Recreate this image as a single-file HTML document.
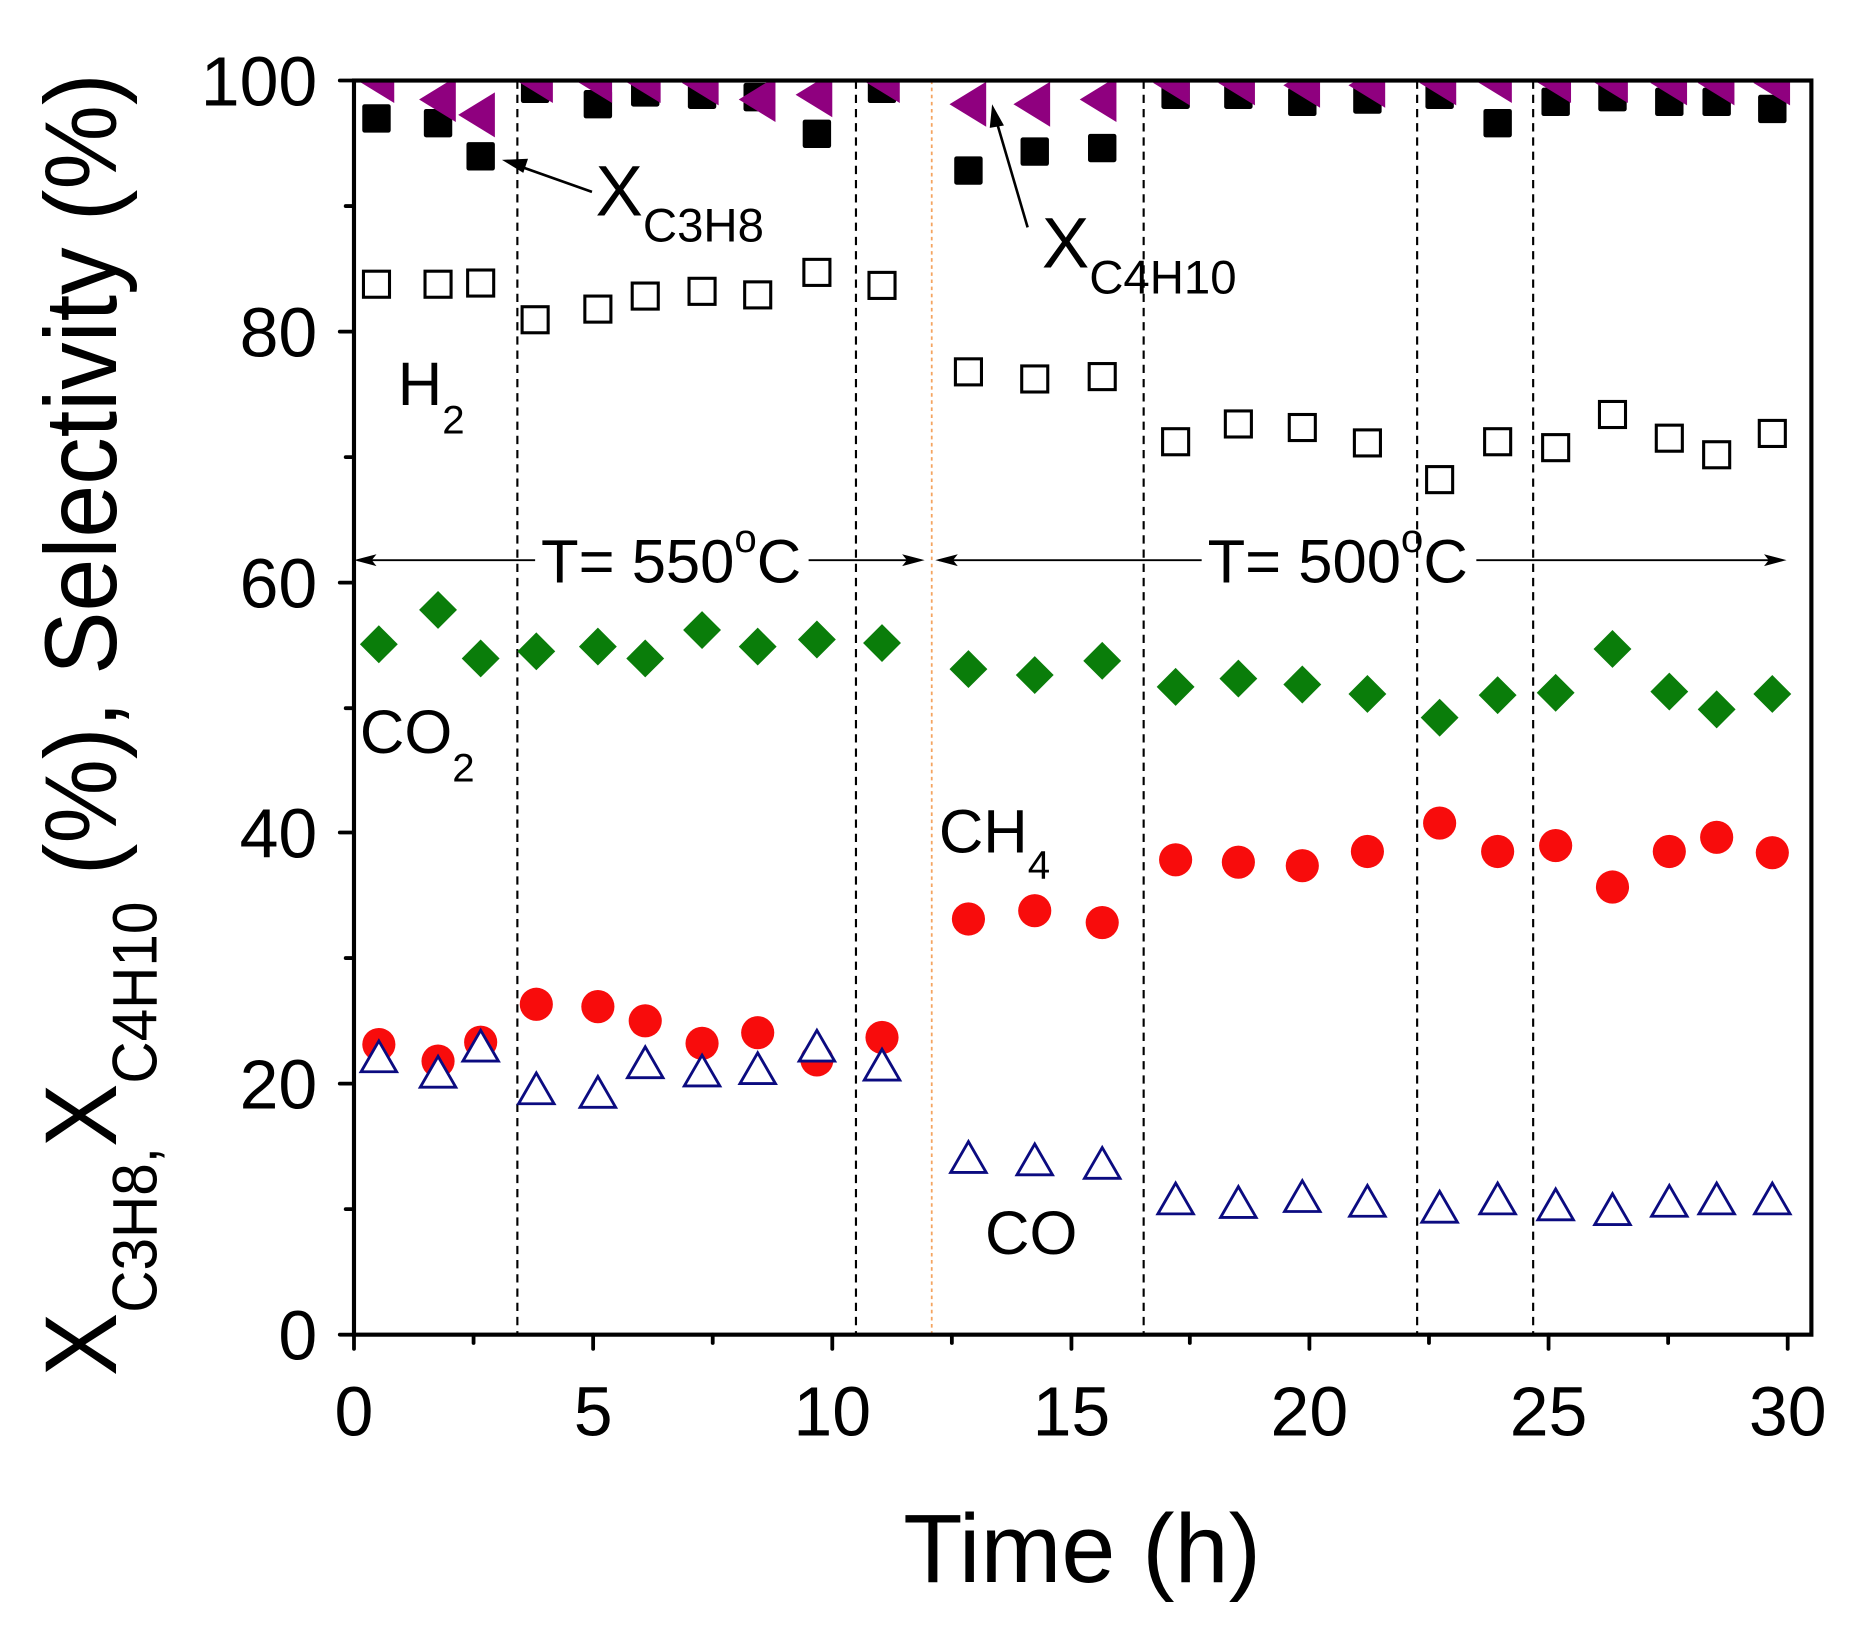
<!DOCTYPE html>
<html><head><meta charset="utf-8"><style>html,body{margin:0;padding:0;background:#fff}svg{display:block}</style></head><body>
<svg width="1854" height="1626" viewBox="0 0 1566 1373" preserveAspectRatio="none" xmlns="http://www.w3.org/2000/svg" font-family="Liberation Sans, sans-serif">
<defs>
<clipPath id="c"><rect x="299" y="68" width="1231" height="1059"/></clipPath>
<polygon id="lt" points="-16,0 15,-19 15,19" fill="#8f007f"/>
<rect id="fs" x="-12" y="-12" width="24" height="24" rx="2" fill="#000"/>
<rect id="os" x="-11" y="-11" width="22" height="22" fill="#fff" stroke="#000" stroke-width="2.6"/>
<polygon id="dm" points="0,-16 16,0 0,16 -16,0" fill="#0a7d0a"/>
<circle id="ci" r="14" fill="#f80c0c"/>
<polygon id="tr" points="0,-14 15,12 -15,12" fill="#fff" stroke="#0b0b80" stroke-width="2.4"/>
</defs>
<rect width="1566" height="1373" fill="#fff"/>
<g stroke="#000" stroke-width="1.8" stroke-dasharray="7,5">
<line x1="437" y1="68" x2="437" y2="1127"/><line x1="723" y1="68" x2="723" y2="1127"/>
<line x1="966" y1="68" x2="966" y2="1127"/><line x1="1197" y1="68" x2="1197" y2="1127"/>
<line x1="1295" y1="68" x2="1295" y2="1127"/></g>
<line x1="787" y1="68" x2="787" y2="1127" stroke="#f4a460" stroke-width="1.5" stroke-dasharray="3,3"/>
<g stroke="#000" stroke-width="1.6" fill="#000">
<line x1="302" y1="473" x2="452" y2="473"/><line x1="683" y1="473" x2="776" y2="473"/>
<polygon points="299,473 318,468 314,473 318,478" stroke="none"/><polygon points="781,473 762,468 766,473 762,478" stroke="none"/>
<line x1="793" y1="473" x2="1015" y2="473"/><line x1="1247" y1="473" x2="1505" y2="473"/>
<polygon points="790,473 809,468 805,473 809,478" stroke="none"/><polygon points="1509,473 1490,468 1494,473 1490,478" stroke="none"/>
</g>
<g font-size="52" fill="#000">
<text x="457" y="492">T= 550<tspan font-size="34" dy="-26">o</tspan><tspan dy="26">C</tspan></text>
<text x="1020" y="492">T= 500<tspan font-size="34" dy="-26">o</tspan><tspan dy="26">C</tspan></text>
</g>
<g clip-path="url(#c)">
<g>
<use href="#fs" x="318" y="100"/><use href="#fs" x="370" y="104"/><use href="#fs" x="406" y="132"/><use href="#fs" x="452" y="75"/><use href="#fs" x="505" y="88"/><use href="#fs" x="545" y="78"/><use href="#fs" x="593" y="80"/><use href="#fs" x="640" y="82"/><use href="#fs" x="690" y="113"/><use href="#fs" x="745" y="75"/><use href="#fs" x="818" y="144"/><use href="#fs" x="874" y="128"/><use href="#fs" x="931" y="125"/><use href="#fs" x="993" y="80"/><use href="#fs" x="1046" y="80"/><use href="#fs" x="1100" y="86"/><use href="#fs" x="1155" y="84"/><use href="#fs" x="1216" y="80"/><use href="#fs" x="1265" y="104"/><use href="#fs" x="1314" y="86"/><use href="#fs" x="1362" y="82"/><use href="#fs" x="1410" y="86"/><use href="#fs" x="1450" y="86"/><use href="#fs" x="1497" y="92"/>
</g>
<g>
<use href="#lt" x="318" y="68"/><use href="#lt" x="370" y="84"/><use href="#lt" x="403" y="97"/><use href="#lt" x="452" y="68"/><use href="#lt" x="502" y="68"/><use href="#lt" x="543" y="68"/><use href="#lt" x="592" y="70"/><use href="#lt" x="640" y="84"/><use href="#lt" x="688" y="80"/><use href="#lt" x="745" y="68"/><use href="#lt" x="818" y="88"/><use href="#lt" x="872" y="88"/><use href="#lt" x="928" y="84"/><use href="#lt" x="990" y="70"/><use href="#lt" x="1045" y="70"/><use href="#lt" x="1100" y="72"/><use href="#lt" x="1155" y="72"/><use href="#lt" x="1215" y="70"/><use href="#lt" x="1262" y="68"/><use href="#lt" x="1312" y="68"/><use href="#lt" x="1360" y="68"/><use href="#lt" x="1410" y="70"/><use href="#lt" x="1450" y="70"/><use href="#lt" x="1497" y="70"/>
</g>
<g>
<use href="#os" x="318" y="240"/><use href="#os" x="370" y="240"/><use href="#os" x="406" y="239"/><use href="#os" x="452" y="270"/><use href="#os" x="505" y="261"/><use href="#os" x="545" y="250"/><use href="#os" x="593" y="246"/><use href="#os" x="640" y="249"/><use href="#os" x="690" y="230"/><use href="#os" x="745" y="241"/><use href="#os" x="818" y="314"/><use href="#os" x="874" y="320"/><use href="#os" x="931" y="318"/><use href="#os" x="993" y="373"/><use href="#os" x="1046" y="358"/><use href="#os" x="1100" y="361"/><use href="#os" x="1155" y="374"/><use href="#os" x="1216" y="405"/><use href="#os" x="1265" y="373"/><use href="#os" x="1314" y="378"/><use href="#os" x="1362" y="350"/><use href="#os" x="1410" y="370"/><use href="#os" x="1450" y="384"/><use href="#os" x="1497" y="366"/>
</g>
<g>
<use href="#dm" x="320" y="544"/><use href="#dm" x="370" y="515"/><use href="#dm" x="406" y="556"/><use href="#dm" x="453" y="550"/><use href="#dm" x="505" y="546"/><use href="#dm" x="545" y="556"/><use href="#dm" x="593" y="532"/><use href="#dm" x="640" y="546"/><use href="#dm" x="690" y="540"/><use href="#dm" x="745" y="543"/><use href="#dm" x="818" y="565"/><use href="#dm" x="874" y="570"/><use href="#dm" x="931" y="558"/><use href="#dm" x="993" y="580"/><use href="#dm" x="1046" y="573"/><use href="#dm" x="1100" y="578"/><use href="#dm" x="1155" y="586"/><use href="#dm" x="1216" y="606"/><use href="#dm" x="1265" y="587"/><use href="#dm" x="1314" y="585"/><use href="#dm" x="1362" y="548"/><use href="#dm" x="1410" y="584"/><use href="#dm" x="1450" y="599"/><use href="#dm" x="1497" y="586"/>
</g>
<g>
<use href="#ci" x="320" y="882"/><use href="#ci" x="370" y="896"/><use href="#ci" x="406" y="880"/><use href="#ci" x="453" y="848"/><use href="#ci" x="505" y="850"/><use href="#ci" x="545" y="862"/><use href="#ci" x="593" y="881"/><use href="#ci" x="640" y="872"/><use href="#ci" x="690" y="895"/><use href="#ci" x="745" y="876"/><use href="#ci" x="818" y="776"/><use href="#ci" x="874" y="769"/><use href="#ci" x="931" y="779"/><use href="#ci" x="993" y="726"/><use href="#ci" x="1046" y="728"/><use href="#ci" x="1100" y="731"/><use href="#ci" x="1155" y="719"/><use href="#ci" x="1216" y="695"/><use href="#ci" x="1265" y="719"/><use href="#ci" x="1314" y="714"/><use href="#ci" x="1362" y="749"/><use href="#ci" x="1410" y="719"/><use href="#ci" x="1450" y="707"/><use href="#ci" x="1497" y="720"/>
</g>
<g>
<use href="#tr" x="320" y="893"/><use href="#tr" x="370" y="906"/><use href="#tr" x="406" y="884"/><use href="#tr" x="453" y="920"/><use href="#tr" x="505" y="923"/><use href="#tr" x="545" y="898"/><use href="#tr" x="593" y="905"/><use href="#tr" x="640" y="903"/><use href="#tr" x="690" y="884"/><use href="#tr" x="745" y="900"/><use href="#tr" x="818" y="978"/><use href="#tr" x="874" y="980"/><use href="#tr" x="931" y="983"/><use href="#tr" x="993" y="1013"/><use href="#tr" x="1046" y="1016"/><use href="#tr" x="1100" y="1011"/><use href="#tr" x="1155" y="1015"/><use href="#tr" x="1216" y="1020"/><use href="#tr" x="1265" y="1013"/><use href="#tr" x="1314" y="1018"/><use href="#tr" x="1362" y="1022"/><use href="#tr" x="1410" y="1015"/><use href="#tr" x="1450" y="1013"/><use href="#tr" x="1497" y="1013"/>
</g>
</g>
<g stroke="#000" stroke-width="2.2" fill="#000">
<line x1="500" y1="162" x2="435" y2="139"/><polygon points="424,135 446,134 442,146" stroke="none"/>
<line x1="868" y1="192" x2="841" y2="100"/><polygon points="838,88 848,106 836,108" stroke="none"/>
</g>
<g fill="#000">
<text x="503" y="182" font-size="60">X<tspan font-size="40" dy="22">C3H8</tspan></text>
<text x="880" y="226" font-size="60">X<tspan font-size="40" dy="22">C4H10</tspan></text>
<text x="336" y="342" font-size="52">H<tspan font-size="34" dy="24">2</tspan></text>
<text x="304" y="636" font-size="52">CO<tspan font-size="34" dy="24">2</tspan></text>
<text x="793" y="720" font-size="52">CH<tspan font-size="34" dy="22">4</tspan></text>
<text x="832" y="1059" font-size="52">CO</text>
</g>
<rect x="299" y="68" width="1231" height="1059" fill="none" stroke="#000" stroke-width="3.5"/>
<g stroke="#000" stroke-width="3.2" stroke-linecap="round">
<line x1="299" y1="1127" x2="287" y2="1127"/><line x1="299" y1="915" x2="287" y2="915"/><line x1="299" y1="703" x2="287" y2="703"/><line x1="299" y1="492" x2="287" y2="492"/><line x1="299" y1="280" x2="287" y2="280"/><line x1="299" y1="68" x2="287" y2="68"/>
<line x1="299" y1="1021" x2="292" y2="1021"/><line x1="299" y1="809" x2="292" y2="809"/><line x1="299" y1="598" x2="292" y2="598"/><line x1="299" y1="386" x2="292" y2="386"/><line x1="299" y1="174" x2="292" y2="174"/>
<line x1="299" y1="1127" x2="299" y2="1139"/><line x1="501" y1="1127" x2="501" y2="1139"/><line x1="703" y1="1127" x2="703" y2="1139"/><line x1="905" y1="1127" x2="905" y2="1139"/><line x1="1106" y1="1127" x2="1106" y2="1139"/><line x1="1308" y1="1127" x2="1308" y2="1139"/><line x1="1510" y1="1127" x2="1510" y2="1139"/>
<line x1="400" y1="1127" x2="400" y2="1134"/><line x1="602" y1="1127" x2="602" y2="1134"/><line x1="804" y1="1127" x2="804" y2="1134"/><line x1="1005" y1="1127" x2="1005" y2="1134"/><line x1="1207" y1="1127" x2="1207" y2="1134"/><line x1="1409" y1="1127" x2="1409" y2="1134"/>
</g>
<g font-size="59" fill="#000" text-anchor="end">
<text x="268" y="1148">0</text><text x="268" y="936">20</text><text x="268" y="724">40</text><text x="268" y="513">60</text><text x="268" y="301">80</text><text x="268" y="89">100</text>
</g>
<g font-size="59" fill="#000" text-anchor="middle">
<text x="299" y="1212">0</text><text x="501" y="1212">5</text><text x="703" y="1212">10</text><text x="905" y="1212">15</text><text x="1106" y="1212">20</text><text x="1308" y="1212">25</text><text x="1510" y="1212">30</text>
</g>
<text x="914" y="1336" font-size="82" text-anchor="middle" fill="#000">Time (h)</text>
<text transform="translate(98,1162) rotate(-90)" font-size="86" fill="#000" textLength="1100" lengthAdjust="spacingAndGlyphs">X<tspan font-size="53" dy="34">C3H8,</tspan><tspan dy="-34">X</tspan><tspan font-size="53" dy="34">C4H10</tspan><tspan dy="-34"> (%), Selectivity (%)</tspan></text>
</svg>
</body></html>
